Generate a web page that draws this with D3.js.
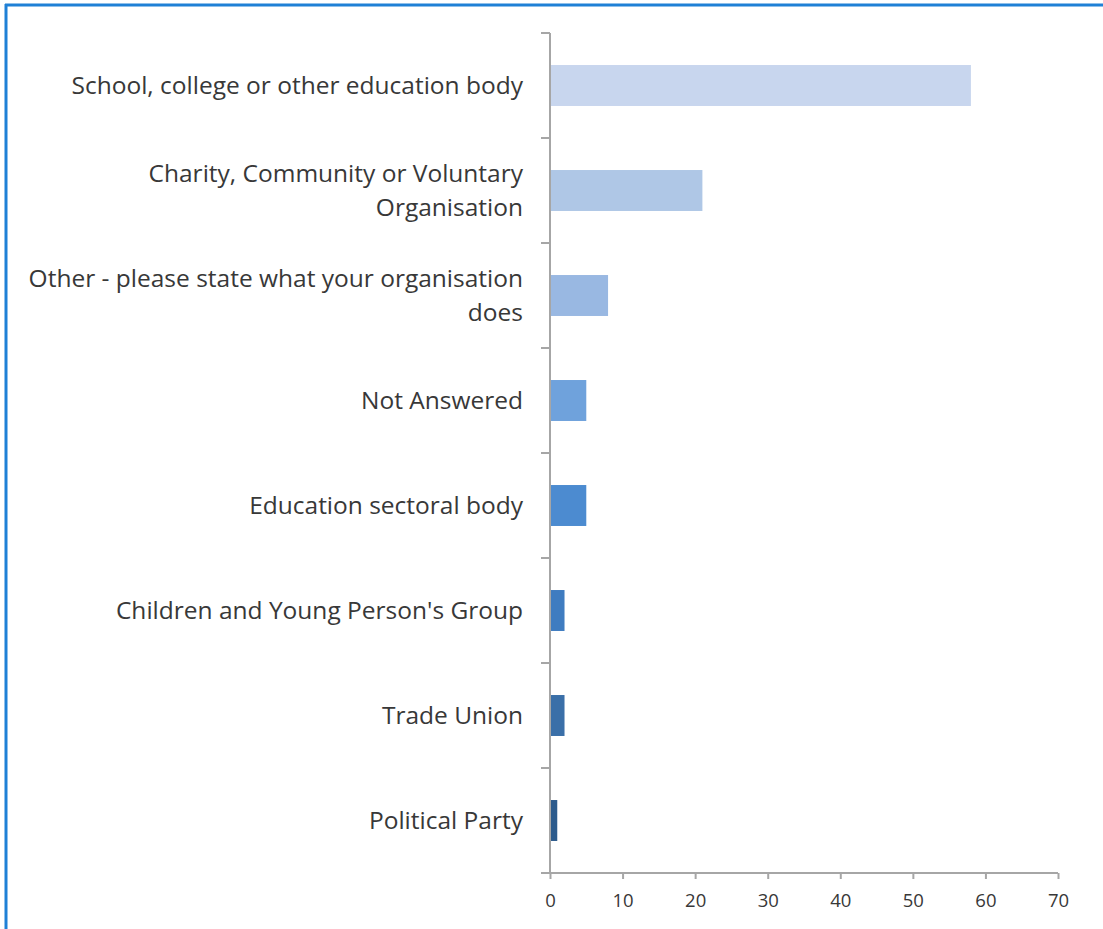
<!DOCTYPE html>
<html>
<head>
<meta charset="utf-8">
<script src="https://cdn.jsdelivr.net/npm/d3@7"></script>
<style>
  html, body { margin: 0; padding: 0; background: #fff; }
  svg { display: block; }
  .lbl { font-family: "Open Sans", Lato, sans-serif; font-size: 24.5px; fill: #383838; }
  .tick-lbl { font-family: "Open Sans", Lato, sans-serif; font-size: 18.5px; fill: #383838; }
</style>
</head>
<body>
<svg id="chart" width="1103" height="929"></svg>
<script>
// Organisation types (top to bottom) and the number of responses for each
const categories = [
  ["School, college or other education body"],
  ["Charity, Community or Voluntary", "Organisation"],
  ["Other - please state what your organisation", "does"],
  ["Not Answered"],
  ["Education sectoral body"],
  ["Children and Young Person's Group"],
  ["Trade Union"],
  ["Political Party"]
];
const values = [58, 21, 8, 5, 5, 2, 2, 1];
const barColors = ["#c8d6ee", "#afc7e6", "#99b8e2", "#6fa2dc", "#4c8bd0", "#3f7cc0", "#3a6fa8", "#2d5b8c"];
const xTicks = [0, 10, 20, 30, 40, 50, 60, 70];

const svg = d3.select("#chart");
const W = 1103, H = 929;

// frame: blue rule along top and left edges
svg.append("line").attr("x1", 5).attr("x2", W).attr("y1", 5).attr("y2", 5)
  .attr("stroke", "#1f80d6").attr("stroke-width", 3);
svg.append("line").attr("x1", 6).attr("x2", 6).attr("y1", 4).attr("y2", H)
  .attr("stroke", "#1f80d6").attr("stroke-width", 3);

const plotLeft = 550, plotRight = 1058, plotTop = 33, plotBottom = 873;

const x = d3.scaleLinear().domain([0, 70]).range([plotLeft, plotRight]);
const y = d3.scaleBand().domain(d3.range(categories.length)).range([plotTop, plotBottom])
  .paddingInner(0.61).paddingOuter(0.305);
const band = d3.scaleBand().domain(d3.range(categories.length)).range([plotTop, plotBottom]);

const axisColor = "#a6a6a6";

// bars
svg.append("g").selectAll("rect").data(values).join("rect")
  .attr("x", x(0))
  .attr("y", (d, i) => y(i))
  .attr("width", d => x(d) - x(0))
  .attr("height", y.bandwidth())
  .attr("fill", (d, i) => barColors[i]);

// category axis with ticks between bands
const yAxis = svg.append("g");
yAxis.append("line").attr("x1", plotLeft).attr("x2", plotLeft).attr("y1", plotTop).attr("y2", plotBottom)
  .attr("stroke", axisColor).attr("stroke-width", 2);
yAxis.selectAll("line.t").data(d3.range(categories.length + 1)).join("line")
  .attr("class", "t")
  .attr("x1", plotLeft - 9).attr("x2", plotLeft)
  .attr("y1", i => i < categories.length ? band(i) : plotBottom)
  .attr("y2", i => i < categories.length ? band(i) : plotBottom)
  .attr("stroke", axisColor).attr("stroke-width", 2);

// category labels, right-aligned, one or two lines
const lineGap = 34;
const labels = svg.append("g");
categories.forEach((lines, i) => {
  const cy = band(i) + band.bandwidth() / 2;
  const t = labels.append("text").attr("class", "lbl")
    .attr("text-anchor", "end")
    .attr("x", plotLeft - 27);
  lines.forEach((ln, k) => {
    t.append("tspan")
      .attr("x", plotLeft - 27)
      .attr("y", cy + (k - (lines.length - 1) / 2) * lineGap)
      .attr("dy", "0.36em")
      .text(ln);
  });
});

// value axis along the bottom
const xAxis = d3.axisBottom(x).tickValues(xTicks).tickSize(6).tickSizeOuter(0).tickPadding(15);
const gx = svg.append("g").attr("transform", `translate(0,${plotBottom})`).call(xAxis);
gx.select(".domain").attr("stroke", axisColor).attr("stroke-width", 2)
  .attr("d", `M${plotLeft - 9},0H${plotRight}`);
gx.selectAll(".tick line").attr("stroke", axisColor).attr("stroke-width", 2);
gx.selectAll(".tick text").attr("class", "tick-lbl").attr("fill", null);
</script>
</body>
</html>
